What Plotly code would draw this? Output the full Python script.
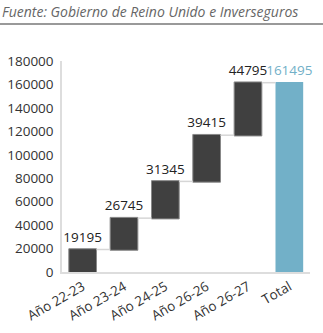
import plotly.graph_objects as go

categories = ["Año 22-23", "Año 23-24", "Año 24-25", "Año 26-26", "Año 26-27", "Total"]
values = [19195, 26745, 31345, 39415, 44795, 161495]
measures = ["relative", "relative", "relative", "relative", "relative", "total"]
label_colors = ["#222222"] * 5 + ["#72b0c8"]
source_text = "Fuente: Gobierno de Reino Unido e Inverseguros"

FONT = "Open Sans"

fig = go.Figure(go.Waterfall(
    x=categories,
    y=[v if m == "relative" else 0 for v, m in zip(values, measures)],
    measure=measures,
    text=[str(v) for v in values],
    textposition="outside",
    constraintext="none",
    textfont=dict(family=FONT, size=13.5, color=label_colors),
    cliponaxis=False,
    increasing=dict(marker=dict(color="#404040", line=dict(color="#888888", width=1))),
    totals=dict(marker=dict(color="#72b0c8", line=dict(color="#72b0c8", width=0))),
    connector=dict(line=dict(color="#d6d6d6", width=1.5)),
    width=0.67,
))

fig.update_layout(
    width=323, height=333,
    margin=dict(l=62, r=13, t=61, b=61),
    paper_bgcolor="white", plot_bgcolor="white",
    showlegend=False,
    font=dict(family=FONT, size=13.5, color="#333333"),
    xaxis=dict(
        showgrid=False, showline=True, linecolor="#dddddd", linewidth=1.5,
        tickangle=-30, ticks="", tickfont=dict(size=13.5, color="#333333"),
        automargin=False,
    ),
    yaxis=dict(
        range=[0, 180000], dtick=20000, showgrid=False, zeroline=False,
        showline=True, linecolor="#dddddd", linewidth=1.5, ticks="",
        ticklabelstandoff=4, automargin=False,
        tickformat="d", tickfont=dict(size=13.5, color="#333333"),
    ),
    annotations=[dict(
        text=source_text, xref="paper", yref="paper", x=-62/248, y=1 + 50/211,
        xanchor="left", yanchor="middle", showarrow=False,
        font=dict(family=FONT, size=14, color="#666666", style="italic"),
    )],
    shapes=[dict(
        type="line", xref="paper", yref="paper",
        x0=-62/248, x1=1 + 13/248, y0=1 + 37/211, y1=1 + 37/211,
        line=dict(color="#999999", width=2),
    )],
)

fig.write_html("out.html")
